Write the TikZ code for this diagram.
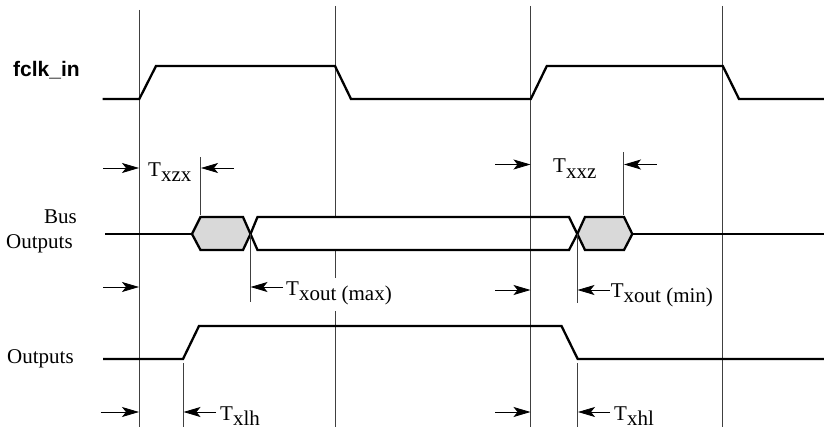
\documentclass[tikz,border=0pt]{standalone}
\usepackage{fontspec}
\setmainfont{Liberation Serif}
\newfontfamily\signalfont{Liberation Sans}
\usetikzlibrary{arrows.meta}

\newcommand{\tlabel}[1]{T\raisebox{-5.5pt}{#1}}

\tikzset{
  wave/.style = {line width=2.3pt, black, miter limit=10},
  marker/.style = {line width=0.85pt, black!75},
  timing/.style = {line width=0.8pt, -{Stealth[length=17pt, width=10pt, inset=4pt]}},
  txt/.style = {inner sep=0pt, anchor=base west, font=\fontsize{21}{21}\selectfont},
}

\begin{document}
\begin{tikzpicture}[x=1pt, y=-1pt]
  \useasboundingbox (0,0) rectangle (824,428);

  % clock edges
  \foreach \name/\x/\top in {a/139.3/10, c/530.8/6, d/722.8/6} {
    \coordinate (\name top) at (\x,\top);
    \coordinate (\name bot) at (\x,426.5);
    \draw[marker] (\name top) -- (\name bot);
  }
  \coordinate (btop) at (335,6);
  \coordinate (bbusa) at (335,217);
  \coordinate (bbusb) at (335,250);
  \coordinate (bgapa) at (335,278);
  \coordinate (bgapb) at (335,311);
  \coordinate (bbot) at (335,426.5);
  \draw[marker] (btop) -- (bbusa);
  \draw[marker] (bbusb) -- (bgapa);
  \draw[marker] (bgapb) -- (bbot);

  % signal names
  \node[txt, font=\fontsize{21}{21}\selectfont\signalfont\bfseries] (fclk) at (13,77) {fclk\_in};
  \node[txt] (bus) at (44,223) {Bus};
  \node[txt] (busout) at (6,248) {Outputs};
  \node[txt] (out) at (7,363) {Outputs};

  % fclk_in
  \draw[wave] (102.7,99) -- (139.3,99) -- (156,66) -- (335,66) -- (351,99) -- (530.8,99)
    -- (546.8,66) -- (722.8,66) -- (739,99) -- (824,99);

  % bus outputs
  \draw[wave] (105,234) -- (192,234);
  \draw[wave, fill=black!15] (192,234) -- (200.5,217) -- (243,217) -- (250.5,234) -- (243,250) -- (200.5,250) -- cycle;
  \draw[wave] (250.5,234) -- (257.5,217) -- (569,217) -- (577.3,234) -- (569,250) -- (257.5,250) -- cycle;
  \draw[wave, fill=black!15] (577.3,234) -- (585,217) -- (624,217) -- (632.3,234) -- (624,250) -- (585,250) -- cycle;
  \draw[wave] (632.3,234) -- (824,234);

  % outputs
  \draw[wave] (103,359) -- (183,359) -- (199,326) -- (561.5,326) -- (577.7,359) -- (824,359);

  % delay ticks
  \foreach \name/\x/\from/\to in {zx/200.5/157/214.5, xz/623.5/152/214.5, mx/250.3/234/302, mn/577.2/234/303, lh/183/363/426.5, hl/577.5/363/426.5} {
    \coordinate (\name up) at (\x,\from);
    \coordinate (\name dn) at (\x,\to);
    \draw[marker] (\name up) -- (\name dn);
  }

  % delay arrows
  \foreach \name/\from/\to/\y in {
    p/103/139/168, q/233.5/201/168, r/495/530.5/164.5, s/656.5/624/164.5,
    t/103/139/287, u/283/250.5/287, v/495/530.5/290, w/610/577.5/290,
    x/100.5/139/412, y/216/183.5/412, z/495/530.5/412, o/610/578/412} {
    \coordinate (\name from) at (\from,\y);
    \coordinate (\name to) at (\to,\y);
    \draw[timing] (\name from) -- (\name to);
  }

  % delay labels
  \node[txt] (txzx) at (148,176) {\tlabel{xzx}};
  \node[txt] (txxz) at (553,172.5) {\tlabel{xxz}};
  \node[txt] (tmax) at (286,295) {\tlabel{xout (max)}};
  \node[txt] (tmin) at (610.7,297) {\tlabel{xout (min)}};
  \node[txt] (txlh) at (220,420) {\tlabel{xlh}};
  \node[txt] (txhl) at (614,420) {\tlabel{xhl}};
\end{tikzpicture}
\end{document}
